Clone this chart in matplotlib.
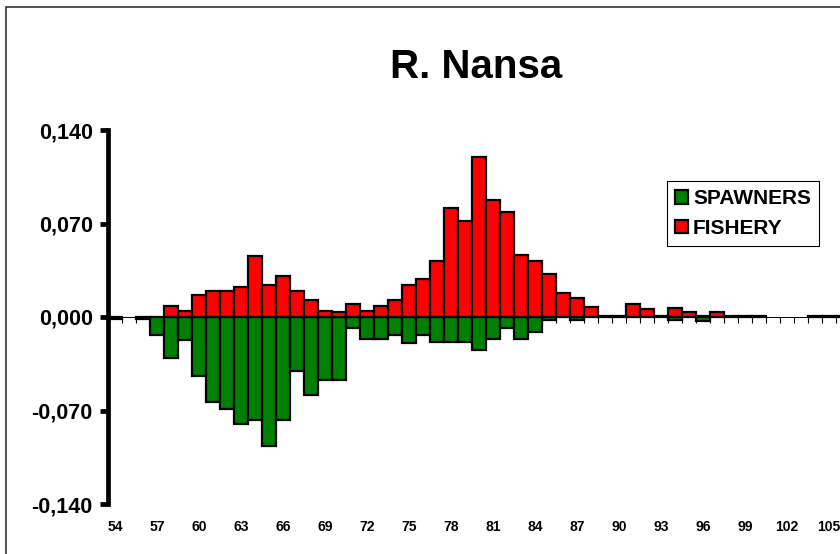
import numpy as np
import matplotlib
matplotlib.use('Agg')
import matplotlib.pyplot as plt
from matplotlib.patches import Rectangle

plt.rcParams['font.family'] = ['Liberation Sans', 'DejaVu Sans']
plt.rcParams['font.weight'] = 'bold'

nan = np.nan
years = list(range(54, 107))
fishery = [nan, nan, nan, nan, 0.0079, 0.0045, 0.0162, 0.0192, 0.0192, 0.0225,
           0.0454, 0.0242, 0.0310, 0.0192, 0.0130, 0.0047, 0.0037, 0.0100, 0.0047, 0.0079,
           0.0130, 0.0242, 0.0287, 0.0416, 0.0816, 0.0716, 0.1195, 0.0878, 0.0783, 0.0466,
           0.0416, 0.0322, 0.0180, 0.0142, 0.0075, 0.0010, 0.0010, 0.0100, 0.0060, 0.0010,
           0.0064, 0.0034, 0.0010, 0.0034, 0.0010, 0.0010, 0.0010, nan, nan, nan,
           0.0010, 0.0010, 0.0010]
spawners = [-0.0015, nan, -0.0015, -0.0135, -0.0307, -0.0170, -0.0445, -0.0637, -0.0689, -0.0799,
            -0.0769, -0.0964, -0.0769, -0.0407, -0.0582, -0.0470, -0.0470, -0.0082, -0.0165, -0.0165,
            -0.0133, -0.0195, -0.0133, -0.0190, -0.0190, -0.0190, -0.0250, -0.0165, -0.0082, -0.0165,
            -0.0112, -0.0025, nan, -0.0025, nan, nan, nan, nan, nan, nan,
            -0.0025, nan, -0.0030, nan, nan, nan, nan, nan, nan, nan,
            nan, nan, nan]
yticks = [-0.14, -0.07, 0.0, 0.07, 0.14]
ytick_labels = ['-0,140', '-0,070', '0,000', '0,070', '0,140']

W, H = 840, 554
fig = plt.figure(figsize=(W / 100, H / 100), dpi=100)

# chart border (right and bottom run off the picture)
fig.patches.append(Rectangle((6 / W, -0.1), 2, 1.1 - 7 / H, transform=fig.transFigure,
                             fill=False, edgecolor='#333333', linewidth=1.2))

ax = fig.add_axes([108 / W, 50 / H, (850 - 108) / W, 374 / H])
x = np.arange(len(years))

ax.bar(x, spawners, width=1.0, color='#008000', edgecolor='black', linewidth=1.6,
       label='SPAWNERS', zorder=3)
ax.bar(x, fishery, width=1.0, color='#FF0000', edgecolor='black', linewidth=1.6,
       label='FISHERY', zorder=3)

ax.set_xlim(-0.5, len(years) - 0.5)
ax.set_ylim(-0.14, 0.14)

ax.spines['top'].set_visible(False)
ax.spines['right'].set_visible(False)
ax.spines['left'].set_linewidth(3.4)
ax.spines['bottom'].set_position(('data', 0))
ax.spines['bottom'].set_linewidth(0.7)
ax.spines['bottom'].set_zorder(2)

ax.set_yticks(yticks)
ax.set_yticklabels(ytick_labels, fontsize=15.5, fontweight='bold')
ax.tick_params(axis='y', direction='out', length=6, width=3.4, pad=5)

lab_idx = [i for i, yr in enumerate(years) if (yr - 54) % 3 == 0]
ax.set_xticks(lab_idx)
ax.set_xticklabels([str(years[i]) for i in lab_idx], fontsize=10, fontweight='bold')
ax.tick_params(axis='x', which='major', length=0, pad=146)
ax.set_xticks(np.arange(len(years) + 1) - 0.5, minor=True)
ax.tick_params(axis='x', which='minor', direction='out', length=4, width=0.8)

fig.text(476 / W, 1 - 67 / H, 'R. Nansa', ha='center', va='center',
         fontsize=29, fontweight='bold')

leg = ax.legend(loc='upper left', bbox_to_anchor=(667 / W, 1 - 181 / H),
                bbox_transform=fig.transFigure, fancybox=False, framealpha=1,
                edgecolor='black', prop={'size': 15, 'weight': 'bold'},
                handlelength=0.6, handleheight=0.6, handletextpad=0.25,
                borderpad=0.4, labelspacing=0.5, borderaxespad=0)
leg.get_frame().set_linewidth(0.8)

fig.savefig('out.png', dpi=100)
